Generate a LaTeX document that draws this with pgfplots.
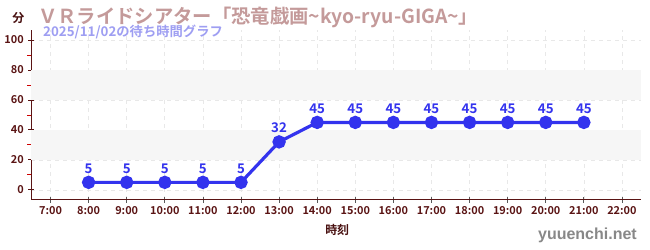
\documentclass[border=0pt]{standalone}
\usepackage{pgfplots}
\pgfplotsset{compat=1.18}
\usepackage{fontspec}
\setmainfont{Noto Sans CJK JP}
\newfontfamily\cjkb{Noto Sans CJK JP}[BoldFont={* Bold}]
\newfontfamily\wmfont{Liberation Sans}
\definecolor{axred}{HTML}{5A1414}
\definecolor{ttl}{HTML}{C49A9A}
\definecolor{sub}{HTML}{9E9EF2}
\definecolor{ln}{HTML}{3333EE}
\definecolor{band}{HTML}{F6F6F6}
\definecolor{wm}{HTML}{888888}
\begin{document}
\begin{tikzpicture}[x=0.75pt,y=0.75pt]
\path (0,0) rectangle (650,250);
\begin{axis}[
  at={(23.25pt,37.5pt)}, anchor=south west,
  scale only axis, width=457.5pt, height=127.5pt,
  xmin=6.5, xmax=22.5, ymin=-6.67, ymax=106.67,
  axis lines*=left,
  axis line style={axred, line width=0.9pt},
  xtick={7,...,22},
  xticklabels={7:00,8:00,9:00,10:00,11:00,12:00,13:00,14:00,15:00,16:00,17:00,18:00,19:00,20:00,21:00,22:00},
  ytick={0,20,40,60,80,100},
  minor ytick={10,30,50,70,90},
  tick align=center,
  major tick length=4.5pt,
  minor tick length=3pt,
  every major tick/.style={axred, line width=0.6pt},
  every minor tick/.style={red!80!black, line width=0.6pt, xshift=-1.5pt},
  x tick style={gray!70!black, line width=0.6pt},
  xmajorgrids, ymajorgrids,
  major grid style={dashed, gray!18, line width=0.5pt},
  ticklabel style={font=\cjkb\bfseries\fontsize{8.2}{9}\selectfont, text=axred},
  /pgf/number format/assume math mode=true,
  xticklabel style={yshift=1pt},
  clip=false,
]
\fill[band] (axis cs:6.5,20) rectangle (axis cs:22.5,40);
\fill[band] (axis cs:6.5,60) rectangle (axis cs:22.5,80);
\addplot[ln, line width=2.4pt, mark=*, mark size=3.8pt,
  nodes near coords,
  every node near coord/.style={font=\cjkb\bfseries\fontsize{10}{11}\selectfont, text=ln, yshift=2pt}]
  coordinates {(8,5) (9,5) (10,5) (11,5) (12,5) (13,32) (14,45) (15,45) (16,45) (17,45) (18,45) (19,45) (20,45) (21,45)};
\end{axis}
\node[anchor=west, font=\cjkb\bfseries\fontsize{14.5}{16}\selectfont, text=ttl] at (33,233) {ＶＲライドシアター「恐竜戯画\textasciitilde kyo-ryu-GIGA\textasciitilde」};
\node[anchor=west, font=\cjkb\bfseries\fontsize{10}{12}\selectfont, text=sub] at (38,218) {2025/11/02の待ち時間グラフ};
\node[font=\cjkb\bfseries\fontsize{9}{10}\selectfont, text=axred!80!black] at (18,232) {分};
\node[font=\cjkb\bfseries\fontsize{9}{10}\selectfont, text=axred!80!black] at (337,20) {時刻};
\node[anchor=base east, inner sep=0pt, font=\wmfont\bfseries\fontsize{12}{14}\selectfont, text=wm] at (637,10) {yuuenchi.net};
\end{tikzpicture}
\end{document}
